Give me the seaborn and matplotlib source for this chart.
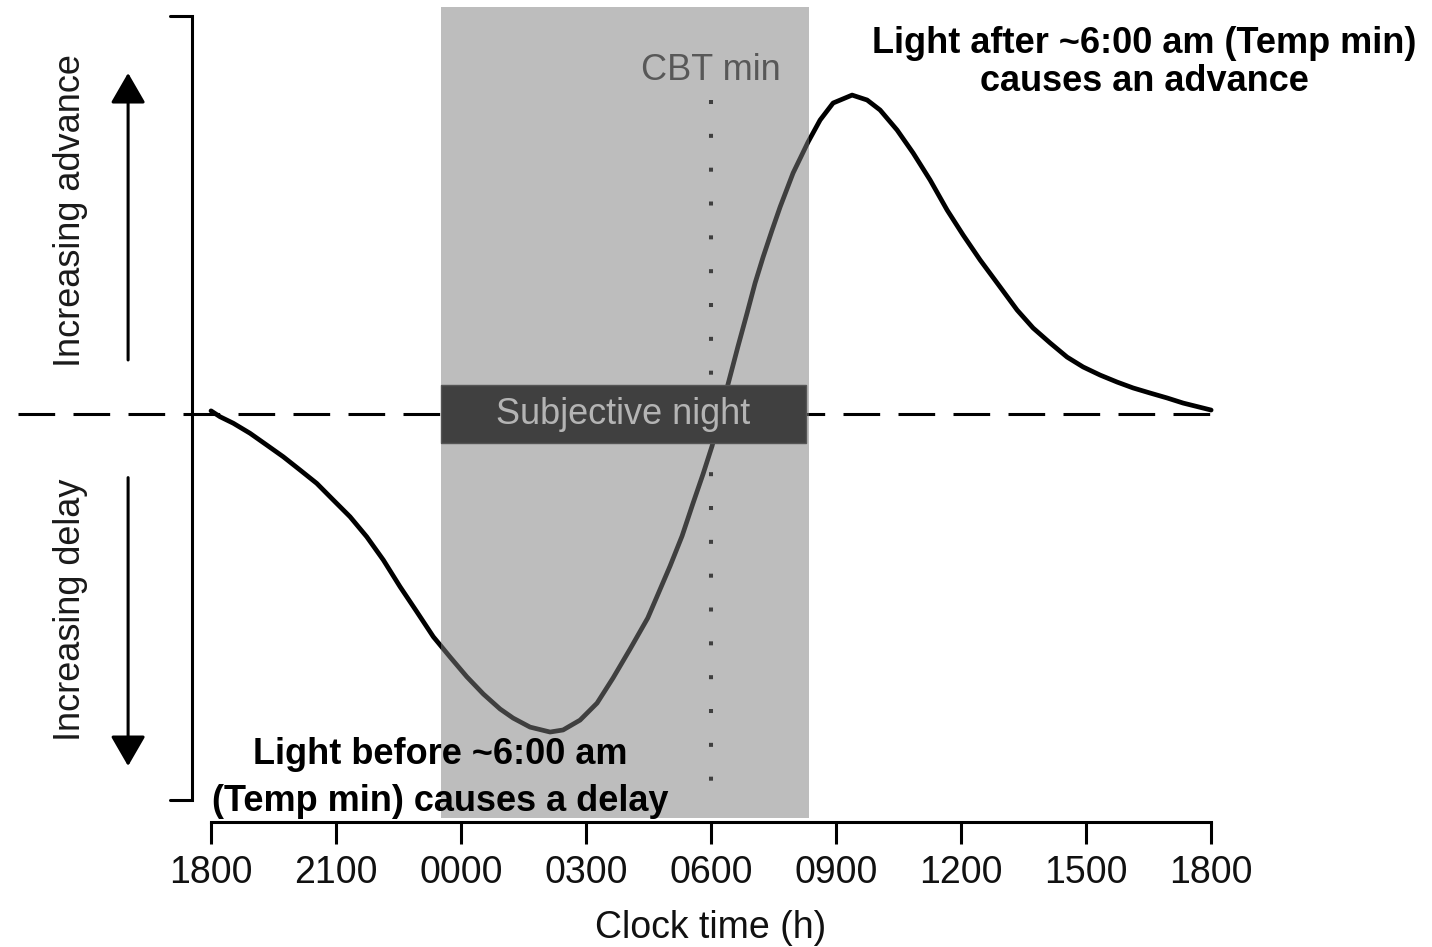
import matplotlib
matplotlib.use("Agg")
import matplotlib.pyplot as plt
import seaborn as sns
import pandas as pd
from matplotlib.patches import Rectangle

# Phase response curve
# hours after 18:00 clock time, phase shift (arbitrary units, + = advance)
hours = [0.0, 0.216, 0.535, 0.936, 1.337, 1.735, 2.136, 2.537, 2.935, 3.336,
         3.737, 4.135, 4.536, 4.937, 5.335, 5.736, 6.137, 6.535, 6.936, 7.248,
         7.656, 8.136, 8.448, 8.856, 9.264, 9.648, 10.056, 10.48, 10.728,
         11.016, 11.304, 11.568, 11.808, 12.024, 12.216, 12.408, 12.648, 12.864,
         13.056, 13.248, 13.464, 13.656, 13.968, 14.328, 14.616, 14.928, 15.384,
         15.744, 16.056, 16.464, 16.848, 17.256, 17.664, 18.048, 18.456, 18.936,
         19.344, 19.728, 20.136, 20.544, 20.928, 21.336, 21.744, 22.128, 22.536,
         22.944, 23.328, 24.0]
shift = [0.02, -0.017, -0.058, -0.121, -0.195, -0.269, -0.352, -0.436, -0.541,
         -0.646, -0.772, -0.918, -1.086, -1.243, -1.401, -1.528, -1.652, -1.761,
         -1.855, -1.912, -1.969, -2.0, -1.987, -1.925, -1.818, -1.66, -1.478,
         -1.283, -1.132, -0.956, -0.767, -0.560, -0.377, -0.201, -0.006, 0.189,
         0.428, 0.635, 0.824, 0.987, 1.157, 1.302, 1.516, 1.711, 1.849, 1.956,
         2.006, 1.975, 1.912, 1.786, 1.642, 1.472, 1.283, 1.126, 0.969, 0.799,
         0.654, 0.541, 0.447, 0.358, 0.296, 0.245, 0.201, 0.164, 0.132, 0.101,
         0.069, 0.025]

tick_hours = [0, 3, 6, 9, 12, 15, 18, 21, 24]
tick_labels = ["1800", "2100", "0000", "0300", "0600", "0900", "1200", "1500", "1800"]

night_start, night_end = 5.52, 14.35
cbt_min = 12.0

df = pd.DataFrame({"hours": hours, "shift": shift})

sns.set_theme(style="white")
plt.rcParams["font.family"] = ["Liberation Sans", "DejaVu Sans"]
plt.rcParams["text.color"] = "black"

fig = plt.figure(figsize=(14.32, 9.47), dpi=100)
ax = fig.add_axes([0, 0, 1, 1])
ax.set_xlim(-5.064, 29.30)
ax.set_ylim(-3.352, 2.604)
ax.set_facecolor("white")

# zero line
ax.plot([-4.63, 24.0], [0, 0], color="black", lw=2.2, dashes=(12, 6), zorder=2)

# curve
sns.lineplot(data=df, x="hours", y="shift", ax=ax, color="black", lw=3.4,
             sort=False, zorder=3)

# CBT min dotted line
ax.plot([cbt_min, cbt_min], [1.975, -2.46], color="black", lw=2.9,
        dashes=(1, 7.4), dash_capstyle="butt", zorder=3)

# subjective night shading (semi-transparent, darkens what lies under it)
ax.add_patch(Rectangle((night_start, -2.54), night_end - night_start, 5.1,
                       facecolor=(0.496, 0.496, 0.496), alpha=0.506,
                       edgecolor="none", zorder=4))
ax.add_patch(Rectangle((night_start, -0.182), 14.28 - night_start, 0.364,
                       facecolor="#404040", edgecolor="#555555", lw=1, zorder=5))
ax.text((night_start + 14.28) / 2, 0.0, "Subjective night", color="#b4b4b4",
        fontsize=26, ha="center", va="center", zorder=6)
ax.text(cbt_min, 2.16, "CBT min", color="#585858", fontsize=26,
        ha="center", va="center", zorder=6)

# bracket on the left
ax.plot([-0.984, -0.456, -0.456, -0.984], [2.503, 2.503, -2.428, -2.428],
        color="black", lw=2.2, solid_joinstyle="miter", zorder=3)

# arrows
arrow = dict(arrowstyle="-|>,head_length=18.7,head_width=10.8", color="black",
             lw=2.2, shrinkA=0, shrinkB=0, mutation_scale=1)
ax.annotate("", xy=(-1.99, 2.145), xytext=(-1.99, 0.34), arrowprops=arrow)
ax.annotate("", xy=(-1.99, -2.214), xytext=(-1.99, -0.40), arrowprops=arrow)
ax.text(-3.38, 1.28, "Increasing advance", rotation=90, fontsize=26,
        color="#1a1a1a", ha="center", va="center")
ax.text(-3.38, -1.23, "Increasing delay", rotation=90, fontsize=26,
        color="#1a1a1a", ha="center", va="center")

# annotations
bold = dict(fontsize=26, fontweight="bold", color="black",
            ha="center", va="center", zorder=7)
ax.text(22.4, 2.33, "Light after ~6:00 am (Temp min)", **bold)
ax.text(22.4, 2.09, "causes an advance", **bold)
ax.text(5.5, -2.14, "Light before ~6:00 am", **bold)
ax.text(5.5, -2.44, "(Temp min) causes a delay", **bold)

# x axis
for side in ["top", "left", "right"]:
    ax.spines[side].set_visible(False)
ax.spines["bottom"].set_position(("data", -2.566))
ax.spines["bottom"].set_bounds(0, 24)
ax.spines["bottom"].set_linewidth(2.2)
ax.spines["bottom"].set_color("black")
ax.set_xticks(tick_hours)
ax.set_xticklabels(tick_labels)
ax.tick_params(axis="x", direction="out", length=15.8, width=2.2, pad=8,
               labelsize=27, colors="black", labelcolor="#111111", bottom=True)
ax.set_yticks([])
ax.set_xlabel("")
ax.set_ylabel("")
ax.text(12.0, -3.235, "Clock time (h)", fontsize=27, color="#111111",
        ha="center", va="center")

fig.savefig("out.png", dpi=100)
